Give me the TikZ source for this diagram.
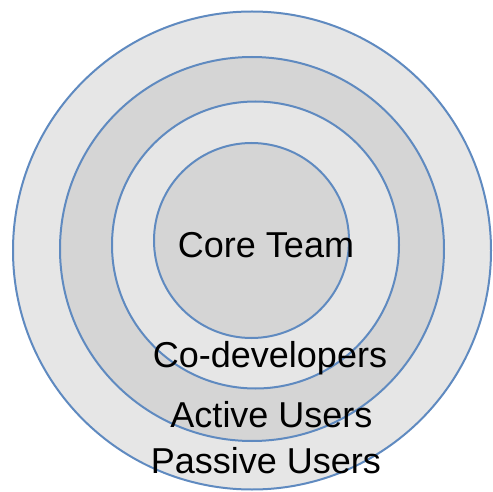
\documentclass[tikz,border=0pt]{standalone}
\usepackage{fontspec}
\setmainfont{Liberation Sans}
\definecolor{ringline}{HTML}{5F8AC0}
\definecolor{lightfill}{HTML}{E6E6E6}
\definecolor{darkfill}{HTML}{D5D5D5}
\tikzset{
  ring/.style={circle, draw=ringline, line width=2pt, inner sep=0pt},
  label/.style={anchor=base, inner sep=0pt, font=\fontsize{36}{40}\selectfont, text=black}
}
\begin{document}
\begin{tikzpicture}[x=1pt, y=-1pt]
  \useasboundingbox (0,0) rectangle (493,492);
  % concentric rings, outermost first
  \node[ring, fill=lightfill, minimum size=478pt] (outer) at (252,250.5) {};
  \node[ring, fill=darkfill,  minimum size=384pt] (active) at (252,249) {};
  \node[ring, fill=lightfill, minimum size=287pt] (codev) at (255.5,245) {};
  \node[ring, fill=darkfill,  minimum size=195pt] (core) at (251.5,240.5) {};
  % ring labels
  \node[label] (tcore)    at (266,257) {Core Team};
  \node[label] (tcodev)   at (270,367) {Co-developers};
  \node[label] (tactive)  at (271.5,427) {Active Users};
  \node[label] (tpassive) at (266,473) {Passive Users};
\end{tikzpicture}
\end{document}
